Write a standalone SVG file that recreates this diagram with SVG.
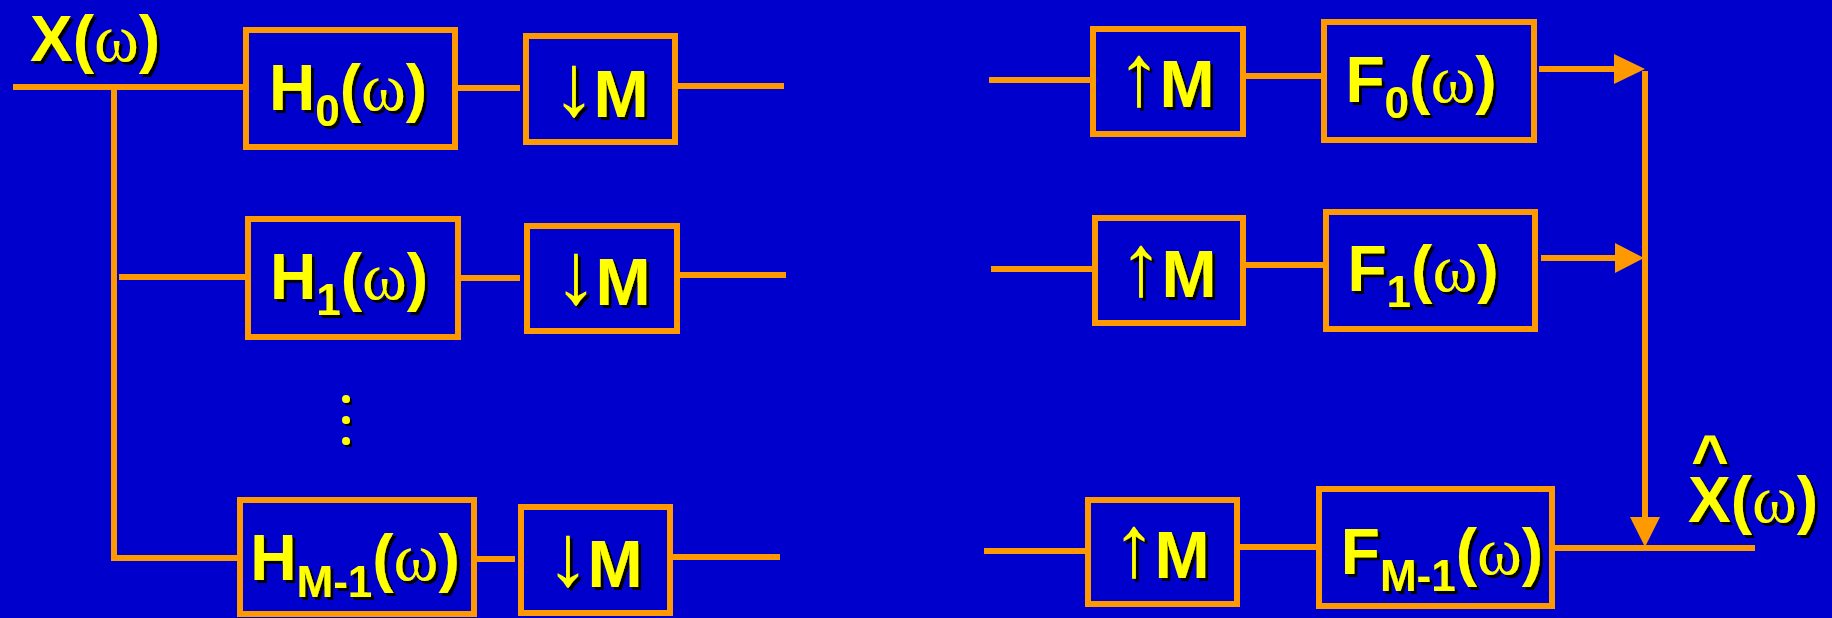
<svg xmlns="http://www.w3.org/2000/svg" width="1832" height="618" viewBox="0 0 1832 618">
<defs>
<filter id="sh" x="-10%" y="-10%" width="130%" height="130%">
<feOffset in="SourceAlpha" dx="3" dy="3" result="o"/>
<feFlood flood-color="#000000"/>
<feComposite in2="o" operator="in" result="s"/>
<feMerge><feMergeNode in="s"/><feMergeNode in="SourceGraphic"/></feMerge>
</filter>
<style>
.box{fill:none;stroke:#FF9900;stroke-width:6}
.ln{stroke:#FF9900;stroke-width:6;fill:none}
.ah{fill:#FF9900}
.lbl{font-family:"Liberation Sans",Arial,sans-serif;font-weight:bold;font-size:64px;fill:#FFFF00;filter:url(#sh)}
.sub{font-size:44px}
.w{font-family:"Liberation Serif","Times New Roman",serif;font-weight:normal;font-size:68px}
.arr{font-family:"Liberation Serif","DejaVu Serif",serif;font-weight:normal;font-size:88px;fill:#FFFF00;filter:url(#sh)}
.m{font-family:"Liberation Sans",Arial,sans-serif;font-weight:bold;font-size:66px;fill:#FFFF00;filter:url(#sh)}
.dot{fill:#FFFF00;filter:url(#sh)}
</style>
</defs>
<rect x="0" y="0" width="1832" height="618" fill="#0000CC"/>

<g id="connectors">
<path class="ln" d="M13,87 H243"/>
<path class="ln" d="M114,87 V558"/>
<path class="ln" d="M119,277 H245"/>
<path class="ln" d="M111,558 H237"/>
<path class="ln" d="M458,88 H520"/>
<path class="ln" d="M678,86 H784"/>
<path class="ln" d="M461,278 H520"/>
<path class="ln" d="M680,275 H786"/>
<path class="ln" d="M477,559 H515"/>
<path class="ln" d="M673,557 H780"/>
<path class="ln" d="M989,80 H1090"/>
<path class="ln" d="M1246,76 H1321"/>
<path class="ln" d="M1539,69 H1615"/>
<polygon class="ah" points="1614,54 1645,69 1614,84"/>
<path class="ln" d="M991,269 H1092"/>
<path class="ln" d="M1246,265 H1323"/>
<path class="ln" d="M1541,258 H1616"/>
<polygon class="ah" points="1615,243 1644,258 1615,273"/>
<path class="ln" d="M984,551 H1085"/>
<path class="ln" d="M1240,547 H1316"/>
<path class="ln" d="M1555,548 H1755"/>
<path class="ln" d="M1645,71 V518"/>
<polygon class="ah" points="1630,517 1660,517 1645,547"/>
</g>

<g id="label-x">
<text class="lbl" x="95" y="61" text-anchor="middle">X(<tspan class="w">ω</tspan>)</text>
</g>
<g id="label-xhat">
<text class="lbl" text-anchor="middle"><tspan x="1710" y="480">^</tspan><tspan x="1753" y="522">X(</tspan><tspan class="w">ω</tspan>)</text>
</g>

<g id="H0">
<rect class="box" x="246" y="30" width="209" height="117"/>
<text class="lbl" x="348" y="110" text-anchor="middle">H<tspan class="sub" dy="16">0</tspan><tspan dy="-16">(</tspan><tspan class="w">ω</tspan>)</text>
</g>
<g id="H1">
<rect class="box" x="248" y="219" width="210" height="118"/>
<text class="lbl" x="349" y="299" text-anchor="middle">H<tspan class="sub" dy="16">1</tspan><tspan dy="-16">(</tspan><tspan class="w">ω</tspan>)</text>
</g>
<g id="dots">
<circle class="dot" cx="346" cy="399" r="4"/>
<circle class="dot" cx="346" cy="420" r="4"/>
<circle class="dot" cx="346" cy="441" r="4"/>
</g>
<g id="HM1">
<rect class="box" x="240" y="500" width="234" height="114"/>
<text class="lbl" x="355" y="580" text-anchor="middle">H<tspan class="sub" dy="17">M-1</tspan><tspan dy="-17">(</tspan><tspan class="w">ω</tspan>)</text>
</g>

<g id="D0">
<rect class="box" x="526" y="36" width="149" height="106"/>
<text class="arr" x="574" y="115" text-anchor="middle">↓</text>
<text class="m" x="621" y="117" text-anchor="middle">M</text>
</g>
<g id="D1">
<rect class="box" x="527" y="226" width="150" height="105"/>
<text class="arr" x="576" y="303" text-anchor="middle">↓</text>
<text class="m" x="623" y="305" text-anchor="middle">M</text>
</g>
<g id="D2">
<rect class="box" x="521" y="507" width="149" height="106"/>
<text class="arr" x="568" y="585" text-anchor="middle">↓</text>
<text class="m" x="615" y="587" text-anchor="middle">M</text>
</g>

<g id="U0">
<rect class="box" x="1093" y="29" width="150" height="105"/>
<text class="arr" x="1139" y="105" text-anchor="middle">↑</text>
<text class="m" x="1187" y="107" text-anchor="middle">M</text>
</g>
<g id="U1">
<rect class="box" x="1095" y="218" width="148" height="105"/>
<text class="arr" x="1141" y="295" text-anchor="middle">↑</text>
<text class="m" x="1189" y="297" text-anchor="middle">M</text>
</g>
<g id="U2">
<rect class="box" x="1088" y="500" width="149" height="104"/>
<text class="arr" x="1134" y="576" text-anchor="middle">↑</text>
<text class="m" x="1182" y="578" text-anchor="middle">M</text>
</g>

<g id="F0">
<rect class="box" x="1324" y="22" width="210" height="118"/>
<text class="lbl" x="1421" y="102" text-anchor="middle">F<tspan class="sub" dy="16">0</tspan><tspan dy="-16">(</tspan><tspan class="w">ω</tspan>)</text>
</g>
<g id="F1">
<rect class="box" x="1326" y="212" width="209" height="117"/>
<text class="lbl" x="1423" y="291" text-anchor="middle">F<tspan class="sub" dy="16">1</tspan><tspan dy="-16">(</tspan><tspan class="w">ω</tspan>)</text>
</g>
<g id="FM1">
<rect class="box" x="1319" y="489" width="233" height="117"/>
<text class="lbl" x="1442" y="574" text-anchor="middle">F<tspan class="sub" dy="17">M-1</tspan><tspan dy="-17">(</tspan><tspan class="w">ω</tspan>)</text>
</g>
</svg>
